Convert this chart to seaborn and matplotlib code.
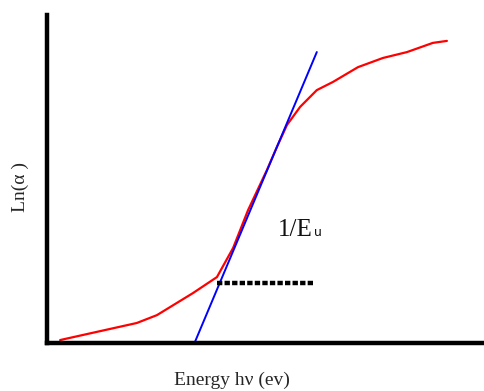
import matplotlib
matplotlib.use("Agg")
import matplotlib.pyplot as plt
import seaborn as sns
import pandas as pd

# ── Data (arbitrary units) ───────────────────────────────────────────────────
energy = [3.0, 11.4, 20.5, 25.1, 33.3, 38.8, 42.5, 45.9, 50.2, 52.5, 54.8,
          57.8, 61.6, 65.3, 71.0, 76.7, 82.2, 88.1, 91.3]
ln_alpha = [0.9, 3.4, 6.1, 8.5, 15.2, 20.1, 29.0, 40.5, 52.7, 59.8, 66.5,
            72.0, 77.1, 79.6, 84.1, 86.9, 88.7, 91.5, 92.1]

tangent_x = [33.3, 61.6]
tangent_y = [-1.2, 88.7]

dash_x = [38.8, 60.7]
dash_y = [18.3, 18.3]

sns.set_style("white")
plt.rcParams["font.family"] = ["Liberation Serif", "DejaVu Serif"]

fig = plt.figure(figsize=(4.85, 3.91), dpi=100)
ax = fig.add_axes([47 / 485, 48 / 391, 438 / 485, 328 / 391])

curve = pd.DataFrame({"x": energy, "y": ln_alpha})
sns.lineplot(data=curve, x="x", y="y", sort=False, color="#ff0000",
             linewidth=1.6, ax=ax)
sns.lineplot(x=tangent_x, y=tangent_y, color="#0000ff", linewidth=1.4, ax=ax)
ax.plot(dash_x, dash_y, color="black", linewidth=3.2, linestyle=(0, (1.2, 0.5)))

ax.text(52.7, 34.5, "1/E", fontsize=18, va="center", ha="left", color="#111111")
ax.text(60.9, 32.6, "u", fontsize=9, va="baseline", ha="left",
        family="DejaVu Sans", color="#111111")

ax.set_xlim(0, 100)
ax.set_ylim(0, 100)
ax.set_xticks([])
ax.set_yticks([])
ax.set_xlabel("")
ax.set_ylabel("")
for side in ["top", "right"]:
    ax.spines[side].set_visible(False)
for side in ["left", "bottom"]:
    ax.spines[side].set_linewidth(3.2)
    ax.spines[side].set_color("black")

fig.text(20 / 485, 1 - 187 / 391, "Ln(\u03b1 )", rotation=90, fontsize=14,
         ha="center", va="center")
fig.text(232 / 485, 1 - 380 / 391, "Energy h\u03bd (ev)", fontsize=14,
         ha="center", va="center")

fig.savefig("out.png", dpi=100)
